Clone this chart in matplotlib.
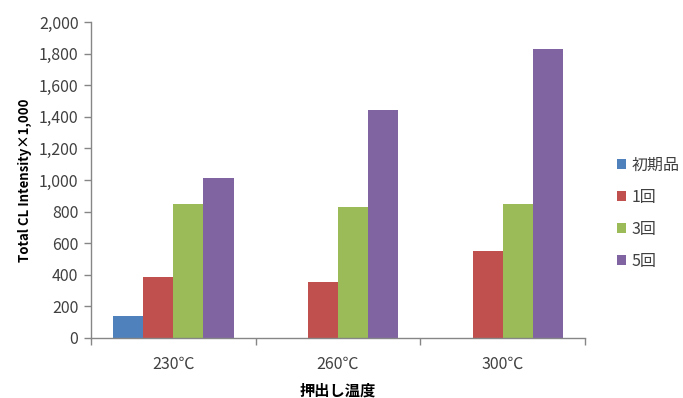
import numpy as np
import matplotlib
matplotlib.use("Agg")
import matplotlib.pyplot as plt

plt.rcParams['font.family'] = ['Noto Sans CJK JP', 'DejaVu Sans']

categories = ["230℃", "260℃", "300℃"]
series_names = ["初期品", "1回", "3回", "5回"]
values = [
    [140, 0, 0],        # 初期品
    [385, 355, 550],    # 1回
    [845, 830, 845],    # 3回
    [1010, 1440, 1830], # 5回
]
colors = ["#4F81BD", "#C0504D", "#9BBB59", "#8064A2"]

fig = plt.figure(figsize=(6.83, 3.98), dpi=100)
ax = fig.add_axes([0.1332, 0.1508, 0.7233, 0.7939])

x = np.arange(len(categories))
w = 0.183
for i, (name, vals) in enumerate(zip(series_names, values)):
    ax.bar(x + (i - 1.5) * w, vals, width=w, color=colors[i], label=name)

ax.set_xlim(-0.5, len(categories) - 0.5)
ax.set_ylim(0, 2000)
ax.set_yticks(np.arange(0, 2001, 200))
ax.set_yticklabels([f"{v:,}" for v in range(0, 2001, 200)])
ax.set_xticks(x)
ax.set_xticklabels(categories)
ax.set_xticks(np.arange(-0.5, len(categories)), minor=True)
ax.tick_params(axis='x', which='major', length=0, pad=13)
ax.tick_params(axis='x', which='minor', length=5, color="#868686", width=1)
ax.tick_params(axis='y', length=5, color="#868686", width=1, pad=4)
ax.tick_params(labelsize=11.5, labelcolor="#404040")

for s in ["top", "right"]:
    ax.spines[s].set_visible(False)
for s in ["left", "bottom"]:
    ax.spines[s].set_color("#868686")
    ax.spines[s].set_linewidth(1)

ax.set_ylabel("Total CL Intensity×1,000", fontsize=9.5, fontweight="bold", labelpad=5)
ax.set_xlabel("押出し温度", fontsize=11, fontweight="bold", labelpad=7)

leg = ax.legend(loc="upper left", bbox_to_anchor=(1.035, 0.62), frameon=False,
                fontsize=11.5, handlelength=0.6, handleheight=0.6,
                handletextpad=0.35, labelspacing=0.95)
for t in leg.get_texts():
    t.set_color("#404040")

fig.savefig("out.png", dpi=100)
